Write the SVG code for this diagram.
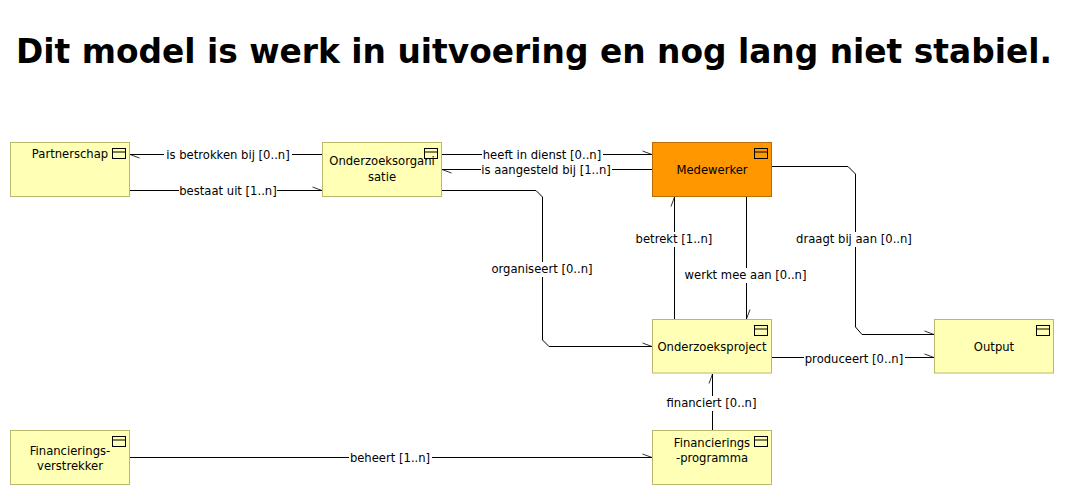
<svg xmlns="http://www.w3.org/2000/svg" width="1089" height="495" viewBox="0 0 1089 495">
<style>
text{font-family:"DejaVu Sans","Liberation Sans",sans-serif;font-size:11.6px;fill:#000;text-anchor:middle}
.title{font-size:34px;font-weight:bold}
.box{fill:#ffffb5;stroke:#b9b86e;stroke-width:1}
.org{fill:#ff9800;stroke:#b86e00;stroke-width:1}
.ico{fill:none;stroke:#000;stroke-width:1}
.c{fill:none;stroke:#000;stroke-width:1;marker-end:url(#barb)}
.lb{fill:#fff;stroke:none}
</style>
<defs>
<marker id="barb" markerUnits="userSpaceOnUse" markerWidth="14" markerHeight="14" refX="11" refY="7" orient="auto" overflow="visible"><path d="M1.5,3.5 L11,7" fill="none" stroke="#000" stroke-width="0.8"/></marker>
<g id="icon"><rect class="ico" x="0" y="0" width="13" height="10"/><path class="ico" d="M0,3.5H13"/></g>
</defs>
<text id="title" class="title" x="534" y="63" textLength="1036" lengthAdjust="spacingAndGlyphs">Dit model is werk in uitvoering en nog lang niet stabiel.</text>
<g id="connectors">
<path class="c" d="M322,154.500H130"/>
<path class="c" d="M130,190.500H322"/>
<path class="c" d="M442,154.500H652"/>
<path class="c" d="M652,169.500H442"/>
<path class="c" d="M442,190.500H536L542.500,197V340L549,346.500H652"/>
<path class="c" d="M674.500,319V197"/>
<path class="c" d="M746.500,197V319"/>
<path class="c" d="M772,166.500H848L855.500,174V327L862,334.500H934"/>
<path class="c" d="M772,357.500H934"/>
<path class="c" d="M712.500,430V374"/>
<path class="c" d="M130,457.500H652"/>
<g id="connector-labels">
<rect class="lb" x="164" y="147" width="128" height="15"/><text x="228" y="159">is betrokken bij [0..n]</text>
<rect class="lb" x="179" y="183" width="98" height="15"/><text x="228" y="195">bestaat uit [1..n]</text>
<rect class="lb" x="482" y="147" width="121" height="15"/><text x="542" y="159">heeft in dienst [0..n]</text>
<rect class="lb" x="481" y="162" width="131" height="15"/><text x="546" y="174">is aangesteld bij [1..n]</text>
<rect class="lb" x="490" y="262" width="104" height="15"/><text x="542" y="273">organiseert [0..n]</text>
<rect class="lb" x="634" y="232" width="80" height="15"/><text x="674" y="243">betrekt [1..n]</text>
<rect class="lb" x="684" y="268" width="123" height="15"/><text x="745.500" y="279">werkt mee aan [0..n]</text>
<rect class="lb" x="795" y="232" width="118" height="15"/><text x="854" y="243">draagt bij aan [0..n]</text>
<rect class="lb" x="804" y="351" width="101" height="15"/><text x="854" y="363">produceert [0..n]</text>
<rect class="lb" x="665" y="396" width="93" height="15"/><text x="711.500" y="407">financiert [0..n]</text>
<rect class="lb" x="349" y="450" width="83" height="15"/><text x="390" y="462">beheert [1..n]</text>
</g>
</g>
<g id="partnerschap"><rect class="box" x="10.500" y="142.500" width="119" height="54"/><text x="70" y="157.500">Partnerschap</text><use href="#icon" x="112.500" y="148.500"/></g>
<g id="onderzoeksorganisatie"><rect class="box" x="322.500" y="142.500" width="119" height="54"/><text x="382" y="165">Onderzoeksorgani</text><text x="382" y="180.500">satie</text><use href="#icon" x="424.500" y="148.500"/></g>
<g id="medewerker"><rect class="org" x="652.500" y="142.500" width="119" height="54"/><text x="712" y="173.500">Medewerker</text><use href="#icon" x="754.500" y="148.500"/></g>
<g id="onderzoeksproject"><rect class="box" x="652.500" y="319.500" width="119" height="53.500"/><text x="712" y="351">Onderzoeksproject</text><use href="#icon" x="754.500" y="325.500"/></g>
<g id="output"><rect class="box" x="934.500" y="319.500" width="119" height="53.500"/><text x="994" y="351">Output</text><use href="#icon" x="1036.500" y="325.500"/></g>
<g id="financieringsverstrekker"><rect class="box" x="10.500" y="430.500" width="119" height="54"/><text x="70" y="455">Financierings-</text><text x="70" y="469.500">verstrekker</text><use href="#icon" x="112.500" y="436.500"/></g>
<g id="financieringsprogramma"><rect class="box" x="652.500" y="430.500" width="119" height="54"/><text x="712" y="447">Financierings</text><text x="712" y="461.500">-programma</text><use href="#icon" x="754.500" y="436.500"/></g>
</svg>
